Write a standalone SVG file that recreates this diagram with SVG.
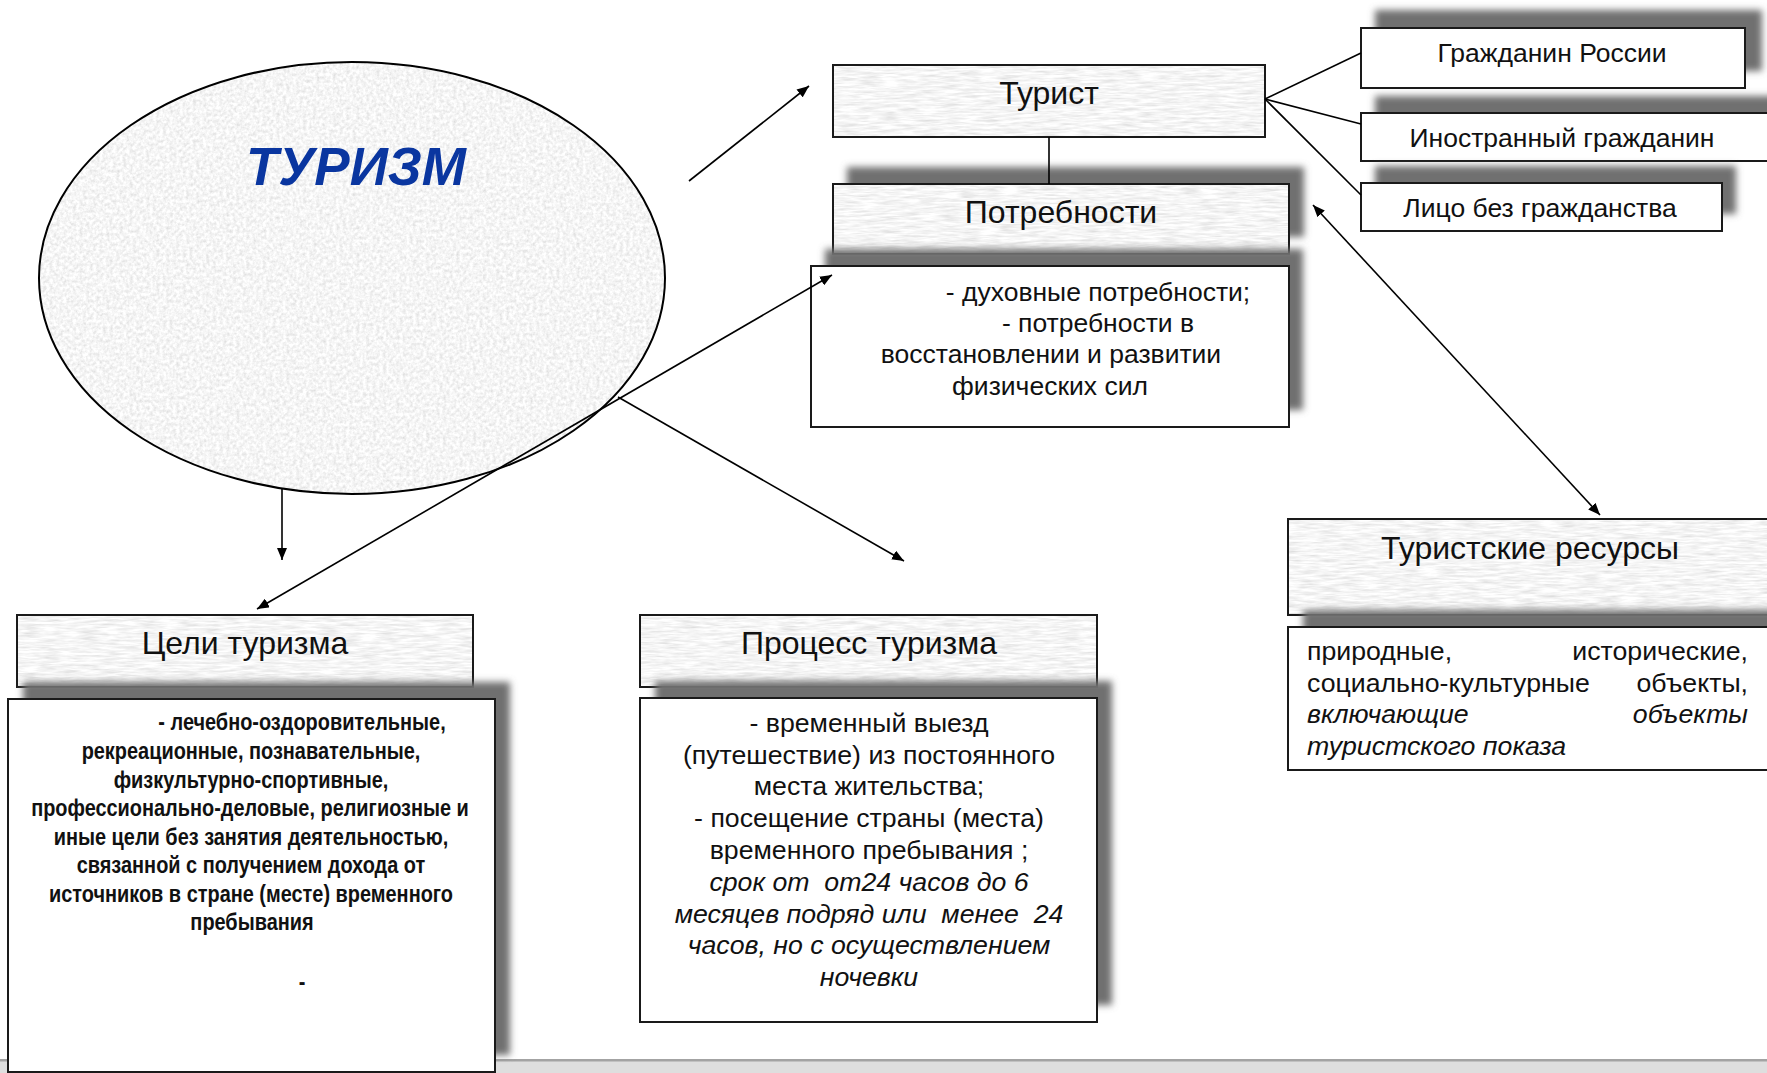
<svg xmlns="http://www.w3.org/2000/svg" width="1767" height="1073" viewBox="0 0 1767 1073">
<defs>
<style>
.t{font-family:"Liberation Sans",Arial,sans-serif;fill:#111;}
.pre{white-space:pre;}
.box{fill:none;stroke:#1a1a1a;stroke-width:2;}
.wbox{fill:#fff;stroke:#1a1a1a;stroke-width:2;}
.shd{fill:#6f6f6f;}
.ln{stroke:#000;stroke-width:1.6;fill:none;}
.mid{text-anchor:middle;}
.end{text-anchor:end;}
.it{font-style:italic;}
.nb{font-family:"Liberation Sans",Arial,sans-serif;font-weight:bold;font-size:24px;fill:#111;text-anchor:middle;}
</style>
<filter id="granite" x="0" y="0" width="1" height="1">
<feTurbulence type="fractalNoise" baseFrequency="0.3" numOctaves="3" seed="4"/>
<feColorMatrix type="matrix" values="0.45 0 0 0 0.69  0.45 0 0 0 0.69  0.45 0 0 0 0.69  0 0 0 0 1"/>
<feComposite in2="SourceGraphic" operator="in"/>
</filter>
<filter id="paper" x="0" y="0" width="1" height="1">
<feTurbulence type="fractalNoise" baseFrequency="0.05 0.45" numOctaves="3" seed="9"/>
<feColorMatrix type="matrix" values="0.45 0 0 0 0.69  0.45 0 0 0 0.69  0.45 0 0 0 0.69  0 0 0 0 1"/>
<feComposite in2="SourceGraphic" operator="in"/>
</filter>
<filter id="blur" x="-20%" y="-30%" width="140%" height="160%">
<feGaussianBlur stdDeviation="3.5"/>
</filter>
<marker id="ah" viewBox="0 0 12 10" refX="12" refY="5" markerWidth="12" markerHeight="10" markerUnits="userSpaceOnUse" orient="auto-start-reverse">
<path d="M0,0 L12,5 L0,10 Z" fill="#000"/>
</marker>
</defs>

<rect x="0" y="0" width="1767" height="1073" fill="#fff"/>
<g id="bottom-bar">
<rect x="0" y="1059" width="1767" height="14" fill="#dedede"/>
<rect x="0" y="1059" width="1767" height="2.5" fill="#a3a3a3"/>
</g>

<g id="tourism">
<ellipse cx="352" cy="278" rx="313" ry="216" fill="#fff" filter="url(#granite)"/>
<ellipse cx="352" cy="278" rx="313" ry="216" fill="none" stroke="#000" stroke-width="2"/>
<text x="356" y="185" class="mid" font-family="Liberation Sans,Arial,sans-serif" font-weight="bold" font-style="italic" font-size="53" fill="#0a36a0">ТУРИЗМ</text>
</g>

<g id="tourist">
<rect x="833" y="65" width="432" height="72" fill="#fff" filter="url(#paper)"/>
<rect x="833" y="65" width="432" height="72" class="box"/>
<text x="1049" y="104" class="t mid" font-size="32">Турист</text>
</g>

<g id="citizen-ru">
<rect x="1375" y="10" width="387" height="61" class="shd" filter="url(#blur)"/>
<rect x="1361" y="28" width="384" height="60" class="wbox"/>
<text x="1552" y="62" class="t mid" font-size="26.5">Гражданин России</text>
</g>

<g id="citizen-foreign">
<rect x="1375" y="96" width="420" height="48" class="shd" filter="url(#blur)"/>
<rect x="1361" y="113" width="420" height="48" class="wbox"/>
<text x="1562" y="147" class="t mid" font-size="26.5">Иностранный гражданин</text>
</g>

<g id="stateless">
<rect x="1375" y="166" width="361" height="48" class="shd" filter="url(#blur)"/>
<rect x="1361" y="183" width="361" height="48" class="wbox"/>
<text x="1540" y="217" class="t mid" font-size="26.5">Лицо без гражданства</text>
</g>

<g id="needs">
<rect x="847" y="167" width="457" height="70" class="shd" filter="url(#blur)"/>
<rect x="833" y="184" width="456" height="70" fill="#fff" filter="url(#paper)"/>
<rect x="833" y="184" width="456" height="70" class="box"/>
<text x="1061" y="223" class="t mid" font-size="32">Потребности</text>
</g>

<g id="needs-body">
<rect x="825" y="249" width="478" height="161" class="shd" filter="url(#blur)"/>
<rect x="811" y="266" width="478" height="161" class="wbox"/>
<text class="t mid" font-size="26.5"><tspan x="1098" y="301">- духовные потребности;</tspan><tspan x="1098" y="332">- потребности в</tspan><tspan x="1051" y="363">восстановлении и развитии</tspan><tspan x="1050" y="395">физических сил</tspan></text>
</g>

<g id="goals">
<rect x="17" y="615" width="456" height="72" fill="#fff" filter="url(#paper)"/>
<rect x="17" y="615" width="456" height="72" class="box"/>
<text x="245" y="654" class="t mid" font-size="32">Цели туризма</text>
</g>

<g id="goals-body">
<rect x="23" y="682" width="487" height="373" class="shd" filter="url(#blur)"/>
<rect x="8" y="699" width="487" height="373" class="wbox"/>
<text class="nb" transform="scale(0.83 1)"><tspan x="363.9" y="730">- лечебно-оздоровительные,</tspan><tspan x="302.4" y="759">рекреационные, познавательные,</tspan><tspan x="302.4" y="788">физкультурно-спортивные,</tspan><tspan x="301.2" y="816">профессионально-деловые, религиозные и</tspan><tspan x="302.4" y="845">иные цели без занятия деятельностью,</tspan><tspan x="302.4" y="873">связанной с получением дохода от</tspan><tspan x="302.4" y="902">источников в стране (месте) временного</tspan><tspan x="303.6" y="930">пребывания</tspan><tspan x="363.9" y="990">-</tspan></text>
</g>

<g id="process">
<rect x="640" y="615" width="457" height="72" fill="#fff" filter="url(#paper)"/>
<rect x="640" y="615" width="457" height="72" class="box"/>
<text x="869" y="654" class="t mid" font-size="32">Процесс туризма</text>
</g>

<g id="process-body">
<rect x="655" y="681" width="457" height="324" class="shd" filter="url(#blur)"/>
<rect x="640" y="698" width="457" height="324" class="wbox"/>
<text class="t mid pre" font-size="26.7"><tspan x="869" y="732">- временный выезд</tspan><tspan x="869" y="764">(путешествие) из постоянного</tspan><tspan x="869" y="795">места жительства;</tspan><tspan x="869" y="827">- посещение страны (места)</tspan><tspan x="869" y="859">временного пребывания ;</tspan><tspan x="869" y="891" class="it">срок от  от24 часов до 6</tspan><tspan x="869" y="923" class="it">месяцев подряд или  менее  24</tspan><tspan x="869" y="954" class="it">часов, но с осуществлением</tspan><tspan x="869" y="986" class="it">ночевки</tspan></text>
</g>

<g id="resources">
<rect x="1288" y="519" width="490" height="96" fill="#fff" filter="url(#paper)"/>
<rect x="1288" y="519" width="490" height="96" class="box"/>
<text x="1530" y="559" class="t mid" font-size="32">Туристские ресурсы</text>
</g>

<g id="resources-body">
<rect x="1303" y="610" width="480" height="143" class="shd" filter="url(#blur)"/>
<rect x="1288" y="627" width="490" height="143" class="wbox"/>
<g class="t" font-size="26.7">
<text x="1307" y="660">природные,</text>
<text x="1748" y="660" class="end">исторические,</text>
<text x="1307" y="691.5">социально-культурные</text>
<text x="1748" y="691.5" class="end">объекты,</text>
<text x="1307" y="723" class="it">включающие</text>
<text x="1748" y="723" class="it end">объекты</text>
<text x="1307" y="754.5" class="it">туристского показа</text>
</g>
</g>

<g id="connectors">
<line class="ln" x1="689" y1="181" x2="809" y2="86" marker-end="url(#ah)"/>
<line class="ln" x1="257" y1="609" x2="832" y2="275" marker-start="url(#ah)" marker-end="url(#ah)"/>
<line class="ln" x1="618" y1="397" x2="904" y2="561" marker-end="url(#ah)"/>
<line class="ln" x1="282" y1="489" x2="282" y2="560" marker-end="url(#ah)"/>
<line class="ln" x1="1313" y1="205" x2="1600" y2="515" marker-start="url(#ah)" marker-end="url(#ah)"/>
<line class="ln" x1="1049" y1="137" x2="1049" y2="184"/>
<line class="ln" x1="1265" y1="99" x2="1361" y2="53"/>
<line class="ln" x1="1265" y1="99" x2="1361" y2="124"/>
<line class="ln" x1="1265" y1="99" x2="1361" y2="195"/>
</g>
</svg>
